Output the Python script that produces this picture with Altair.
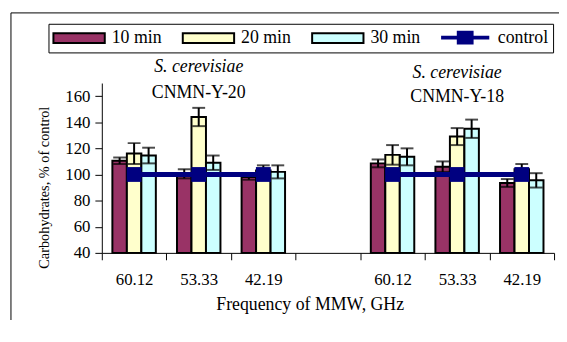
import altair as alt
import pandas as pd

strains = ["CNMN-Y-20", "CNMN-Y-18"]
freqs = ["60.12", "53.33", "42.19"]
series = ["10 min", "20 min", "30 min"]
series_colors = ["#993366", "#FFFFCC", "#CCFFFF"]
control_label = "control"
control_color = "#000080"
control_value = 100

# bar heights, per strain -> series -> frequency
values_y20 = {"10 min": [110.5, 100.5, 98], "20 min": [116, 144, 103], "30 min": [114.5, 109, 102]}
values_y18 = {"10 min": [108.5, 106, 93.5], "20 min": [115, 129, 104], "30 min": [113.5, 135, 95.5]}
errors_y20 = {"10 min": [2.5, 3.5, 2], "20 min": [8, 7, 4], "30 min": [6, 5.5, 5]}
errors_y18 = {"10 min": [3, 4, 3], "20 min": [7.5, 6.5, 4], "30 min": [6.5, 7, 5.5]}
values = {"CNMN-Y-20": values_y20, "CNMN-Y-18": values_y18}
errors = {"CNMN-Y-20": errors_y20, "CNMN-Y-18": errors_y18}

species = "S. cerevisiae"
title_y_species = [182, 178]
title_y_strain = [162.5, 159]

y_ticks = [40, 60, 80, 100, 120, 140, 160]
y_domain = [40, 170]

slot_order = [f"{strains[0]}|{f}" for f in freqs] + ["gap|"] + [f"{strains[1]}|{f}" for f in freqs]

rows = []
for s in strains:
    for ser in series:
        for i, f in enumerate(freqs):
            v = values[s][ser][i]
            e = errors[s][ser][i]
            rows.append({"slot": f"{s}|{f}", "series": ser, "value": v, "lo": v - e, "hi": v + e, "base": 40})
bars_df = pd.DataFrame(rows)

ctrl_df = pd.DataFrame([
    {"slot": f"{s}|{f}", "strain": s, "series": control_label, "value": control_value}
    for s in strains for f in freqs
])

titles_df = pd.DataFrame({
    "slot": [f"{s}|{freqs[1]}" for s in strains],
    "species": [species, species],
    "strain": strains,
    "y1": title_y_species,
    "y2": title_y_strain,
})

legend_domain = series + [control_label]
legend_colors = series_colors + [control_color]
legend_strokes = ["black", "black", "black", control_color]
rect_path = "M-4.333,-0.833H4.333V0.833H-4.333Z"
ctrl_path = "M-3.9,-0.167H3.9V0.167H-3.9Z M-1.25,-1H1.25V1H-1.25Z"
legend_shapes = [rect_path, rect_path, rect_path, ctrl_path]

FONT = "Liberation Serif"

legend = alt.Legend(
    title=None, orient="none", legendX=-54, legendY=-60, direction="horizontal",
    strokeColor="black", fillColor="white", padding=5,
    symbolSize=144, symbolStrokeWidth=2, symbolOffset=17, symbolOpacity=1,
    labelOffset=24, labelFont=FONT, labelFontSize=18, labelColor="black",
    columnPadding=17,
)

color = alt.Color("series:N", scale=alt.Scale(domain=legend_domain, range=legend_colors), legend=legend)

x_axis = alt.Axis(
    title="Frequency of  MMW, GHz", labelExpr="split(datum.label, '|')[1]",
    tickBand="extent", tickSize=7, labelPadding=12, labelAngle=0,
    labelFont=FONT, labelFontSize=17, labelColor="black",
    titleFont=FONT, titleFontSize=18, titleFontWeight="normal", titleColor="black",
    titleX=210.5, titleY=57, titleBaseline="alphabetic",
    domainColor="black", tickColor="black", grid=False,
)
x = alt.X("slot:N", scale=alt.Scale(domain=slot_order, paddingInner=0, paddingOuter=0), axis=x_axis)
xo = alt.XOffset("series:N", scale=alt.Scale(domain=series, paddingInner=0, paddingOuter=0.73))

y_axis = alt.Axis(
    title="Carbohydrates, % of control", values=y_ticks, tickSize=7, labelPadding=5,
    labelOverlap=False,
    labelFont=FONT, labelFontSize=17, labelColor="black",
    titleFont=FONT, titleFontSize=14.5, titleFontWeight="normal", titleColor="black",
    titleX=-58, titleY=105.5, titleAngle=270, titleAlign="center", titleBaseline="middle",
    domainColor="black", tickColor="black", grid=False,
)
y_scale = alt.Scale(domain=y_domain, nice=False, zero=False)


def Y(field):
    return alt.Y(field, scale=y_scale, axis=y_axis)


frame = alt.Chart(pd.DataFrame({"k": [0]})).mark_rect(fill=None, stroke="black", strokeWidth=1).encode(
    x=alt.value(-92), x2=alt.value(500), y=alt.value(-71), y2=alt.value(300)
)

bars = alt.Chart(bars_df).mark_bar(stroke="black", strokeWidth=2).encode(
    x=x, xOffset=xo, y=Y("value:Q"), y2="base:Q", color=color,
)

err_rule = alt.Chart(bars_df).mark_rule(color="black", strokeWidth=2).encode(
    x=x, xOffset=xo, y=Y("lo:Q"), y2="hi:Q"
)
cap_hi = alt.Chart(bars_df).mark_tick(color="black", thickness=2, size=13).encode(
    x=x, xOffset=xo, y=Y("hi:Q")
)
cap_lo = alt.Chart(bars_df).mark_tick(color="black", thickness=2, size=13).encode(
    x=x, xOffset=xo, y=Y("lo:Q")
)

ctrl_line = alt.Chart(ctrl_df).mark_line(color=control_color, strokeWidth=5).encode(
    x=x, y=Y("value:Q"), detail="strain:N"
)
ctrl_pts = alt.Chart(ctrl_df).mark_square(size=225, color=control_color, opacity=1).encode(
    x=x, y=Y("value:Q")
)

legend_layer = alt.Chart(ctrl_df).mark_point(filled=True, opacity=0).encode(
    x=x, y=Y("value:Q"),
    color=color,
    shape=alt.Shape("series:N", scale=alt.Scale(domain=legend_domain, range=legend_shapes), legend=legend),
    stroke=alt.Stroke("series:N", scale=alt.Scale(domain=legend_domain, range=legend_strokes), legend=legend),
)

t1 = alt.Chart(titles_df).mark_text(font=FONT, fontSize=18, fontStyle="italic", color="black").encode(
    x=x, y=Y("y1:Q"), text="species:N"
)
t2 = alt.Chart(titles_df).mark_text(font=FONT, fontSize=18, color="black").encode(
    x=x, y=Y("y2:Q"), text="strain:N"
)

chart = alt.layer(frame, bars, err_rule, cap_hi, cap_lo, ctrl_line, ctrl_pts, legend_layer, t1, t2).properties(
    width=458, height=172,
    autosize=alt.AutoSizeParams(type="none"),
    padding={"left": 95, "top": 74, "right": 5, "bottom": 66},
    background="white",
).configure_view(stroke=None)

chart.save("out.html", embed_options={"renderer": "svg", "actions": False})
